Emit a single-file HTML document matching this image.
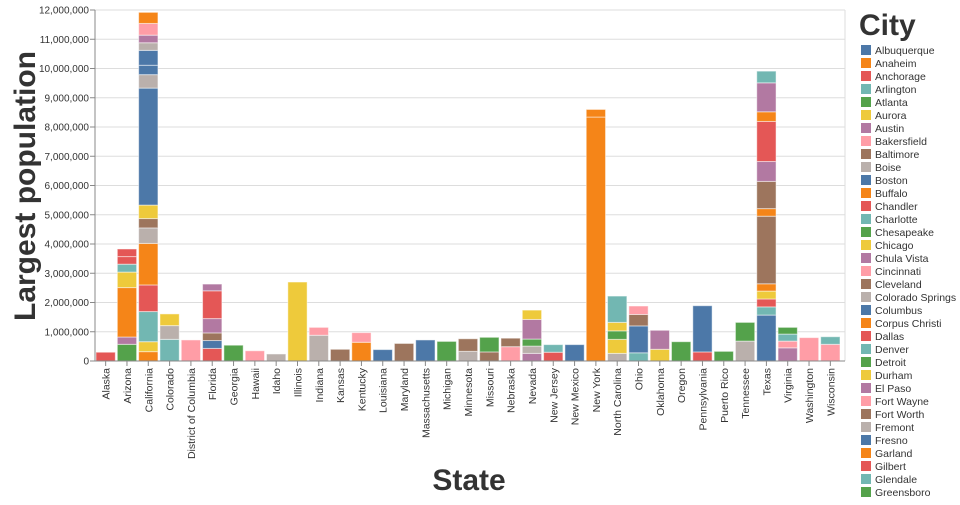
<!DOCTYPE html>
<html><head><meta charset="utf-8"><style>
body{margin:0;background:#fff;font-family:"Liberation Sans",sans-serif;}
svg text{font-family:"Liberation Sans",sans-serif;fill:#333;}
</style></head><body>
<svg id="chart" width="960" height="500"></svg>
<script>
const states=["Alaska","Arizona","California","Colorado","District of Columbia","Florida","Georgia","Hawaii","Idaho","Illinois","Indiana","Kansas","Kentucky","Louisiana","Maryland","Massachusetts","Michigan","Minnesota","Missouri","Nebraska","Nevada","New Jersey","New Mexico","New York","North Carolina","Ohio","Oklahoma","Oregon","Pennsylvania","Puerto Rico","Tennessee","Texas","Virginia","Washington","Wisconsin"];
const segValues=[
[0.3],
[0.57,0.25,1.69,0.53,0.27,0.26,0.26],
[0.32,0.34,1.03,0.91,1.42,0.53,0.32,0.46,4.0,0.46,0.32,0.51,0.26,0.26,0.4,0.38],
[0.74,0.47,0.4],
[0.72],
[0.43,0.27,0.26,0.49,0.95,0.23],
[0.54],[0.35],[0.24],[2.7],
[0.88,0.27],[0.4],[0.64,0.33],[0.39],[0.6],[0.72],[0.67],
[0.33,0.43],[0.31,0.5],[0.49,0.29],
[0.26,0.25,0.24,0.67,0.32],
[0.3,0.26],[0.56],[8.34,0.26],
[0.26,0.48,0.29,0.29,0.9],
[0.28,0.92,0.39,0.29],
[0.4,0.65],[0.66],[0.31,1.58],[0.33],[0.68,0.64],
[1.57,0.28,0.27,0.27,0.25,2.31,0.26,0.93,0.68,1.37,0.33,0.99,0.4],
[0.45,0.23,0.24,0.23],[0.8],[0.57,0.26]
];
const segColors=[
[2],[4,6,1,5,3,2,2],[1,5,3,2,1,9,8,5,0,9,0,0,9,6,7,1],[3,9,5],[7],[2,0,8,6,2,6],
[4],[7],[9],[5],[9,7],[8],[1,7],[0],[8],[0],[4],[9,8],[8,4],[7,8],[6,9,4,6,5],[2,3],[0],[1,1],
[9,5,4,5,3],[3,0,8,7],[5,6],[4],[2,0],[4],[9,4],[0,3,2,5,1,8,1,8,6,2,1,6,3],[6,7,3,4],[7],[7,3]
];
const cities=["Albuquerque","Anaheim","Anchorage","Arlington","Atlanta","Aurora","Austin","Bakersfield","Baltimore","Boise","Boston","Buffalo","Chandler","Charlotte","Chesapeake","Chicago","Chula Vista","Cincinnati","Cleveland","Colorado Springs","Columbus","Corpus Christi","Dallas","Denver","Detroit","Durham","El Paso","Fort Wayne","Fort Worth","Fremont","Fresno","Garland","Gilbert","Glendale","Greensboro"];
const yTicks=[0,1,2,3,4,5,6,7,8,9,10,11,12];
const palette=["#4c78a8","#f58518","#e45756","#72b7b2","#54a24b","#eeca3b","#b279a2","#ff9da6","#9d755d","#bab0ac"];
const NS="http://www.w3.org/2000/svg";
const svg=document.getElementById("chart");
const X0=95,X1=841,Y0=361,Y1=10,YMAX=12;
const step=(X1-X0)/states.length;
const xs=i=>X0+i*step;
const ys=v=>Y0-(v/YMAX)*(Y0-Y1);
function mk(t,a){const e=document.createElementNS(NS,t);for(const k in a)e.setAttribute(k,a[k]);svg.appendChild(e);return e;}
const fmt=n=>(n*1000000).toLocaleString("en-US");
yTicks.forEach(t=>{
  const g=mk("line",{x1:X0,x2:845,y1:ys(t),y2:ys(t),stroke:"#ddd"});
  
  
  const tk=mk("line",{x1:X0-5,x2:X0,y1:ys(t),y2:ys(t),stroke:"#888"});
  
  
  const l=mk("text",{x:X0-6,y:ys(t)+3.5,"text-anchor":"end","font-size":"10"});
  l.textContent=fmt(t);
  
  
});
const ax=mk("line",{x1:X0,x2:X0,y1:Y1,y2:Y0,stroke:"#888"});


const rv=mk("line",{x1:845,x2:845,y1:Y1,y2:Y0,stroke:"#ddd"});


states.forEach((s,i)=>{
  let acc=0;
  segValues[i].forEach((v,j)=>{
    const r=mk("rect",{x:xs(i)+1,width:step-2,y:ys(acc+v),height:ys(acc)-ys(acc+v),fill:palette[segColors[i][j]],stroke:"#fff","stroke-opacity":"0.5","stroke-width":"1"});
    
    
    acc+=v;
  });
  const cx=xs(i)+step/2;
  const tk=mk("line",{x1:cx,x2:cx,y1:Y0,y2:Y0+5,stroke:"#888"});
  
  
  const l=mk("text",{x:0,y:0,"text-anchor":"end","font-size":"10.5",transform:`translate(${cx+4},${Y0+7}) rotate(-90)`});
  l.textContent=s;
  
  
});
const xa=mk("line",{x1:X0,x2:845,y1:Y0,y2:Y0,stroke:"#888"});


const yt=mk("text",{x:0,y:0,"text-anchor":"middle","font-size":"30","font-weight":"bold",transform:"translate(35,186) rotate(-90)"});
yt.textContent="Largest population";


const xt=mk("text",{x:469,y:490,"text-anchor":"middle","font-size":"30","font-weight":"bold"});
xt.textContent="State";


const lt=mk("text",{x:859,y:35,"font-size":"30","font-weight":"bold"});
lt.textContent="City";


cities.forEach((c,k)=>{
  const y=50+k*13;
  const sq=mk("rect",{x:861,y:y-5,width:10,height:10,fill:palette[k%10]});
  
  
  const t=mk("text",{x:875,y:y+4,"font-size":"10.5"});
  t.textContent=c;
  
  
});
</script>
</body></html>
